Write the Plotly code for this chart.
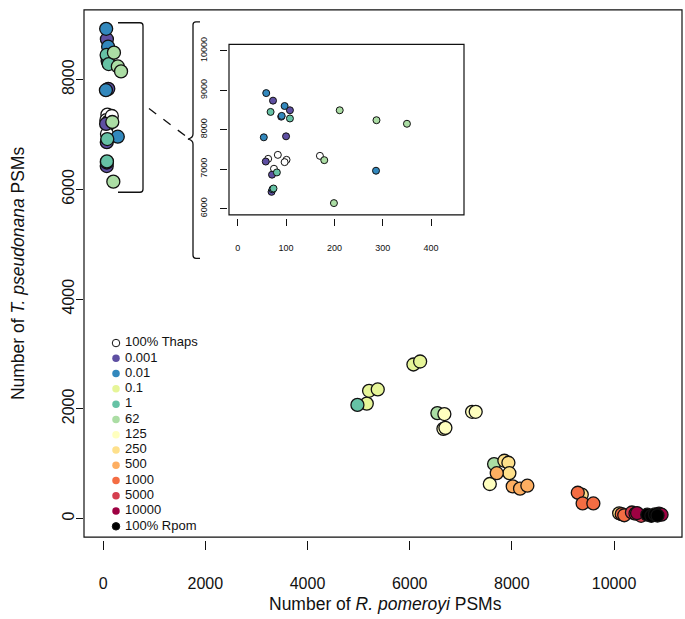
import plotly.graph_objects as go

W, H = 685, 619

# ---------------- data ----------------
groups = ["100% Thaps", "0.001", "0.01", "0.1", "1", "62", "125", "250",
          "500", "1000", "5000", "10000", "100% Rpom"]
colors = ["#ffffff", "#5e4fa2", "#3288bd", "#e6f598", "#66c2a5", "#abdda4",
          "#ffffbf", "#fee08b", "#fdae61", "#f46d43", "#d53e4f", "#9e0142", "#000000"]

thaps_x = [83, 63, 101, 97, 170, 75]
thaps_y = [7362, 7261, 7236, 7178, 7337, 7010]
c0001_x = [73, 108, 90, 100, 58, 71, 70]
c0001_y = [8736, 8492, 8330, 7832, 7193, 6860, 6425]
c001_x = [59, 97, 91, 54, 286, 72]
c001_y = [8927, 8600, 8350, 7807, 6960, 6490]
c01_x = [5160, 5205, 5375, 6073, 6204]
c01_y = [2095, 2328, 2353, 2808, 2862]
c1_x = [68, 108, 81, 74, 4977]
c1_y = [8450, 8284, 6917, 6510, 2071]
c62_x = [211, 287, 350, 179, 199, 6542, 7652]
c62_y = [8492, 8240, 8150, 7228, 6140, 1922, 993]
c125_x = [6679, 6660, 6699, 7221, 7292, 7568]
c125_y = [1904, 1635, 1653, 1945, 1945, 629]
c250_x = [7853, 7932, 7951, 9368, 10100]
c250_y = [1053, 1017, 826, 437, 95]
c500_x = [7704, 8017, 8160, 8303]
c500_y = [826, 586, 544, 598]
c1000_x = [9290, 9385, 9595, 10150, 10200]
c1000_y = [470, 275, 275, 80, 60]
c5000_x = [10350, 10420, 10530]
c5000_y = [110, 90, 50]
c10000_x = [10450, 10880, 10930]
c10000_y = [100, 90, 70]
rpom_x = [10650, 10730, 10800, 10850]
rpom_y = [70, 50, 75, 55]

series_x = [thaps_x, c0001_x, c001_x, c01_x, c1_x, c62_x, c125_x, c250_x,
            c500_x, c1000_x, c5000_x, c10000_x, rpom_x]
series_y = [thaps_y, c0001_y, c001_y, c01_y, c1_y, c62_y, c125_y, c250_y,
            c500_y, c1000_y, c5000_y, c10000_y, rpom_y]

main_xticks = [0, 2000, 4000, 6000, 8000, 10000]
main_yticks = [0, 2000, 4000, 6000, 8000]
inset_xticks = [0, 100, 200, 300, 400]
inset_yticks = [6000, 7000, 8000, 9000, 10000]

FONT = "Liberation Sans, Arial, Helvetica, sans-serif"


def px(x):
    return x / W


def py(y):
    return 1 - y / H


fig = go.Figure()

for name, col, xs, ys in zip(groups, colors, series_x, series_y):
    fig.add_trace(go.Scatter(x=xs, y=ys, mode="markers", name=name, showlegend=False,
                             marker=dict(size=13, color=col, line=dict(color="#111", width=1.3)),
                             xaxis="x", yaxis="y", hoverinfo="skip"))
    fig.add_trace(go.Scatter(x=xs, y=ys, mode="markers", name=name, showlegend=False,
                             marker=dict(size=7, color=col, line=dict(color="#111", width=1)),
                             xaxis="x2", yaxis="y2", hoverinfo="skip"))

# manual legend (R-style, no box)
leg_rows = list(range(len(groups)))
fig.add_trace(go.Scatter(
    x=[0] * len(groups), y=leg_rows, mode="markers",
    marker=dict(size=7.5, color=colors,
                line=dict(color=["#111"] + ["rgba(0,0,0,0)"] * (len(groups) - 2) + ["#111"],
                          width=1)),
    xaxis="x3", yaxis="y3", showlegend=False, hoverinfo="skip", cliponaxis=False))
fig.add_trace(go.Scatter(
    x=[9] * len(groups), y=leg_rows, mode="text", text=groups,
    textposition="middle right", textfont=dict(family=FONT, size=13, color="#111"),
    xaxis="x3", yaxis="y3", showlegend=False, hoverinfo="skip", cliponaxis=False))

box_x0, box_x1 = px(84), px(682)
box_y0, box_y1 = py(538), py(3)
in_x0, in_x1 = px(229), px(464)
in_y0, in_y1 = py(211), py(38)

tickfont = dict(family=FONT, size=16, color="#111")
small = dict(family=FONT, size=9, color="#111")

fig.update_layout(
    width=W, height=H, margin=dict(l=0, r=0, t=0, b=0),
    paper_bgcolor="white", plot_bgcolor="white", showlegend=False,
    xaxis=dict(domain=[box_x0, box_x1], range=[-375, 11330], tickvals=main_xticks,
               ticktext=[str(v) for v in main_xticks],
               ticks="outside", ticklen=9, tickwidth=1, tickcolor="#111",
               showgrid=False, zeroline=False, showline=False,
               anchor="free", position=py(541), tickfont=tickfont, ticklabelstandoff=20),
    yaxis=dict(domain=[box_y0, box_y1], range=[-340, 9270], tickvals=main_yticks,
               ticktext=[str(v) for v in main_yticks],
               ticks="outside", ticklen=7, tickwidth=1, tickcolor="#111",
               showgrid=False, zeroline=False, showline=False, tickangle=-90,
               anchor="free", position=px(83), tickfont=tickfont, ticklabelstandoff=-4),
    xaxis2=dict(domain=[in_x0, in_x1], range=[-18, 468], tickvals=inset_xticks,
                ticktext=[str(v) for v in inset_xticks],
                ticks="outside", ticklen=7, tickwidth=1, tickcolor="#111",
                showgrid=False, zeroline=False, showline=False,
                anchor="free", position=py(214), tickfont=small, ticklabelstandoff=14),
    yaxis2=dict(domain=[in_y0, in_y1], range=[5840, 10160], tickvals=inset_yticks,
                ticktext=[str(v) for v in inset_yticks],
                ticks="outside", ticklen=7, tickwidth=1, tickcolor="#111",
                showgrid=False, zeroline=False, showline=False, tickangle=-90,
                anchor="free", position=px(227), tickfont=small, ticklabelstandoff=9),
    xaxis3=dict(domain=[px(100), px(300)], range=[-16, 184], visible=False),
    yaxis3=dict(domain=[py(527), py(341)], range=[12, 0], visible=False),
)

shapes = [
    dict(type="rect", xref="paper", yref="paper", x0=box_x0, x1=box_x1, y0=box_y0, y1=box_y1,
         line=dict(color="#111", width=1.2), layer="above"),
    dict(type="rect", xref="paper", yref="paper", x0=in_x0, x1=in_x1, y0=in_y0, y1=in_y1,
         line=dict(color="#111", width=1.2), layer="above"),
]


def path(pts):
    s = ""
    for cmd, coords in pts:
        s += cmd + " " + " ".join(f"{px(a):.5f},{py(b):.5f}" for a, b in coords) + " "
    return s.strip()


# "]" brace next to the thaps cluster in the main plot
p_main = path([("M", [(118, 16)]), ("L", [(140, 16)]), ("Q", [(143, 16), (143, 19)]),
               ("L", [(143, 185)]), ("Q", [(143, 188), (140, 188)]), ("L", [(118, 188)])])
shapes.append(dict(type="path", xref="paper", yref="paper", path=p_main,
                   line=dict(color="#111", width=1.3)))
# "{" brace next to inset
p_in = path([("M", [(200, 15)]), ("L", [(196, 15)]), ("Q", [(193, 15), (193, 18)]),
             ("L", [(193, 129)]), ("Q", [(193, 133), (188, 134)]), ("Q", [(193, 135), (193, 139)]),
             ("L", [(193, 252)]), ("Q", [(193, 255), (196, 255)]), ("L", [(200, 255)])])
shapes.append(dict(type="path", xref="paper", yref="paper", path=p_in,
                   line=dict(color="#111", width=1.3)))
shapes.append(dict(type="line", xref="paper", yref="paper", x0=px(149), y0=py(103),
                   x1=px(187), y1=py(132), line=dict(color="#111", width=1.3, dash="dash")))
fig.update_layout(shapes=shapes)

fig.add_annotation(xref="paper", yref="paper", x=px(385), y=py(606),
                   text="Number of <i>R. pomeroyi</i> PSMs", showarrow=False,
                   font=dict(family=FONT, size=17.5, color="#111"), xanchor="center", yanchor="middle")
fig.add_annotation(xref="paper", yref="paper", x=px(18), y=py(270),
                   text="Number of <i>T. pseudonana</i> PSMs", showarrow=False, textangle=-90,
                   font=dict(family=FONT, size=17.5, color="#111"), xanchor="center", yanchor="middle")

fig.write_html("out.html", config={"displayModeBar": False},
               post_script="document.body.style.margin='0';document.body.style.overflow='hidden';")
